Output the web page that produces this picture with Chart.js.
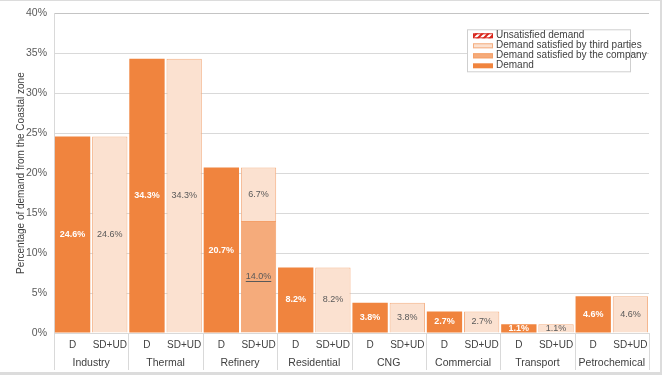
<!DOCTYPE html>
<html>
<head>
<meta charset="utf-8">
<script src="https://cdn.jsdelivr.net/npm/chart.js@4.4.1/dist/chart.umd.min.js"></script>
<style>
  html, body { margin: 0; padding: 0; background: #fff; }
  #wrap { position: relative; width: 666px; height: 378px; }
</style>
</head>
<body>
<div id="wrap"><canvas id="demandChart"></canvas></div>
<script>
// categories and bar labels
const categories = ['Industry', 'Thermal', 'Refinery', 'Residential', 'CNG', 'Commercial', 'Transport', 'Petrochemical'];
const barLabels = ['D', 'SD+UD'];

// values in %
const demand = [24.6, 34.3, 20.7, 8.2, 3.8, 2.7, 1.1, 4.6];
const satisfiedCompany = [0, 0, 14.0, 0, 0, 0, 0, 0];
const satisfiedThird = [24.6, 34.3, 6.7, 8.2, 3.8, 2.7, 1.1, 4.6];
const unsatisfied = [0, 0, 0, 0, 0, 0, 0, 0];

const yTicks = [0, 5, 10, 15, 20, 25, 30, 35, 40];

const FONT = 'Liberation Sans';

// 16 slots: D then SD+UD for each category
const xLabels = [];
categories.forEach(() => barLabels.forEach(b => xLabels.push(b)));

function onD(arr) {
    const out = [];
    arr.forEach(v => { out.push(v); out.push(null); });
    return out;
}
function onSD(arr) {
    const out = [];
    arr.forEach(v => { out.push(null); out.push(v); });
    return out;
}

// red hatch for unsatisfied demand
function hatch() {
    const c = document.createElement('canvas');
    c.width = 6; c.height = 6;
    const g = c.getContext('2d');
    g.fillStyle = '#fff';
    g.fillRect(0, 0, 6, 6);
    g.strokeStyle = '#D9261C';
    g.lineWidth = 2;
    g.beginPath();
    g.moveTo(0, 6); g.lineTo(6, 0);
    g.moveTo(-3, 3); g.lineTo(3, -3);
    g.moveTo(3, 9); g.lineTo(9, 3);
    g.stroke();
    return g.createPattern(c, 'repeat');
}

const dataChart = {
    labels: xLabels,
    datasets: [
        {
            label: 'Demand',
            data: onD(demand),
            backgroundColor: '#F0843E',
            borderWidth: 0
        },
        {
            label: 'Demand satisfied by the company',
            data: onSD(satisfiedCompany),
            backgroundColor: '#F5AB7B',
            borderColor: '#F4A06A',
            borderWidth: 1
        },
        {
            label: 'Demand satisfied by third parties',
            data: onSD(satisfiedThird),
            backgroundColor: '#FBE1D0',
            borderColor: '#F4AF82',
            borderWidth: 1
        },
        {
            label: 'Unsatisfied demand',
            data: onSD(unsatisfied),
            backgroundColor: hatch(),
            borderColor: '#D9261C',
            borderWidth: 1
        }
    ]
};

// value labels in the middle of each bar
const valueLabels = {
    id: 'valueLabels',
    afterDatasetsDraw(chart) {
        const ctx = chart.ctx;
        ctx.save();
        ctx.textAlign = 'center';
        ctx.textBaseline = 'middle';
        chart.data.datasets.forEach((ds, di) => {
            const meta = chart.getDatasetMeta(di);
            meta.data.forEach((bar, i) => {
                const v = ds.data[i];
                if (v === null || v <= 0) return;
                const txt = v.toFixed(1) + '%';
                const y = (bar.y + bar.base) / 2;
                if (di === 0) {
                    ctx.font = 'bold 9px "' + FONT + '"';
                    ctx.fillStyle = '#ffffff';
                } else {
                    ctx.font = '9px "' + FONT + '"';
                    ctx.fillStyle = '#595959';
                }
                ctx.fillText(txt, bar.x, y);
                if (di === 1) {
                    // this one is underlined in the original
                    const w = ctx.measureText(txt).width;
                    ctx.strokeStyle = '#595959';
                    ctx.lineWidth = 1;
                    ctx.beginPath();
                    ctx.moveTo(bar.x - w / 2, Math.round(y + 4) + 0.5);
                    ctx.lineTo(bar.x + w / 2, Math.round(y + 4) + 0.5);
                    ctx.stroke();
                }
            });
        });
        ctx.restore();
    }
};

// vertical separators between categories under the axis
const catLines = {
    id: 'catLines',
    afterDraw(chart) {
        const ctx = chart.ctx;
        const x2 = chart.scales.x2;
        ctx.save();
        ctx.strokeStyle = '#d9d9d9';
        ctx.lineWidth = 1;
        for (let i = 0; i <= categories.length; i++) {
            const px = Math.round(x2.getPixelForValue(i - 0.5)) + 0.5;
            ctx.beginPath();
            ctx.moveTo(px, chart.chartArea.bottom);
            ctx.lineTo(px, 370);
            ctx.stroke();
        }
        ctx.restore();
    }
};

// legend box inside the plot, reversed order
const boxLegend = {
    id: 'boxLegend',
    afterDraw(chart) {
        const ctx = chart.ctx;
        const a = chart.chartArea;
        const bx = a.right - 182, by = a.top + 16, bw = 163, bh = 42;
        ctx.save();
        ctx.fillStyle = '#fff';
        ctx.fillRect(bx, by, bw, bh);
        ctx.strokeStyle = '#cfcfcf';
        ctx.lineWidth = 1;
        ctx.strokeRect(bx + 0.5, by + 0.5, bw, bh);
        const items = chart.data.datasets.slice().reverse();
        ctx.font = '10px "' + FONT + '"';
        ctx.textBaseline = 'middle';
        ctx.textAlign = 'left';
        items.forEach((ds, i) => {
            const cy = by + 6 + i * 10;
            ctx.fillStyle = ds.backgroundColor;
            ctx.fillRect(bx + 6, cy - 2, 20, 5);
            if (ds.borderWidth) {
                ctx.strokeStyle = ds.borderColor;
                ctx.strokeRect(bx + 6.5, cy - 1.5, 19, 4);
            }
            ctx.fillStyle = '#404040';
            ctx.fillText(ds.label, bx + 29, cy);
        });
        ctx.restore();
    }
};

// outer frame
const frame = {
    id: 'frame',
    afterDraw(chart) {
        const ctx = chart.ctx;
        ctx.save();
        ctx.fillStyle = '#dcdcdc';
        ctx.fillRect(0, 0, 662, 1);
        ctx.fillRect(660, 0, 2, 375);
        ctx.fillRect(0, 372, 662, 3);
        ctx.restore();
    }
};

const configChart = {
    type: 'bar',
    data: dataChart,
    options: {
        responsive: true,
        maintainAspectRatio: false,
        animation: false,
        layout: { padding: { left: 12, right: 17, top: 13, bottom: 5 } },
        datasets: { bar: { categoryPercentage: 1, barPercentage: 0.95 } },
        plugins: {
            legend: { display: false },
            tooltip: { enabled: false }
        },
        scales: {
            x: {
                stacked: true,
                offset: true,
                grid: { display: false, drawTicks: false },
                border: { color: '#d9d9d9' },
                ticks: {
                    autoSkip: false,
                    maxRotation: 0,
                    padding: 6,
                    color: '#404040',
                    font: { family: FONT, size: 10 }
                },
                afterFit(s) { s.height = 20; }
            },
            x2: {
                type: 'category',
                labels: categories,
                position: 'bottom',
                offset: true,
                grid: { display: false, drawTicks: false },
                border: { display: false },
                ticks: {
                    padding: 4,
                    color: '#404040',
                    font: { family: FONT, size: 10.5 }
                },
                afterFit(s) { s.height = 20; }
            },
            y: {
                stacked: true,
                min: 0,
                max: 40,
                afterBuildTicks(s) { s.ticks = yTicks.map(v => ({ value: v })); },
                grid: {
                    color: c => (c.tick && c.tick.value === 40 ? '#c4c4c4' : '#d9d9d9'),
                    drawTicks: false
                },
                border: { color: '#d9d9d9' },
                ticks: {
                    padding: 7,
                    color: '#595959',
                    font: { family: FONT, size: 10.5 },
                    callback: v => v + '%'
                },
                title: {
                    display: true,
                    text: 'Percentage of demand from the Coastal zone',
                    color: '#404040',
                    font: { family: FONT, size: 10 },
                    padding: { top: 3, bottom: 0 }
                },
                afterFit(s) { s.width = 42; }
            }
        }
    },
    plugins: [valueLabels, catLines, boxLegend, frame]
};

const myChart = new Chart(document.getElementById('demandChart'), configChart);
</script>
</body>
</html>
